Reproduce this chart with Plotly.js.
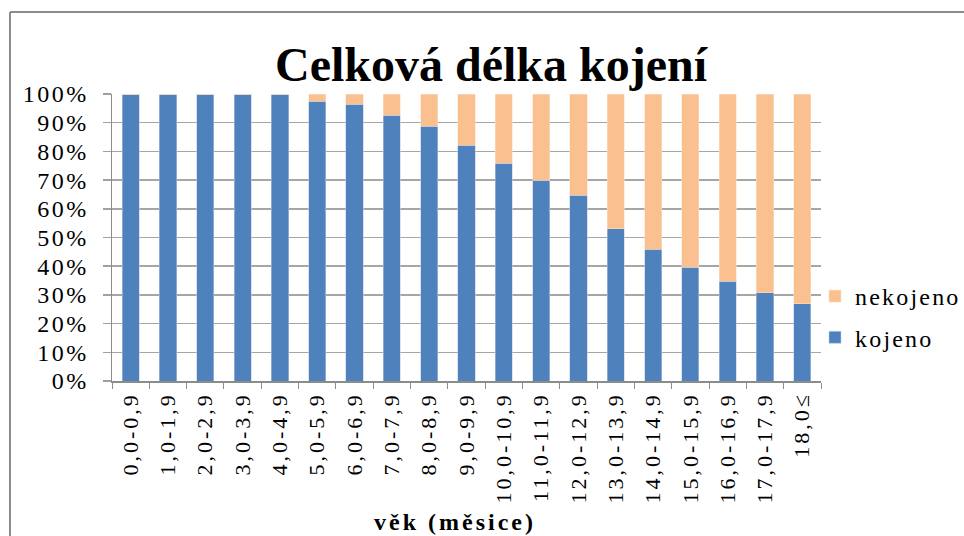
<!DOCTYPE html>
<html>
<head>
<meta charset="utf-8">
<script src="https://cdn.plot.ly/plotly-3.0.1.min.js"></script>
<style>
html,body{margin:0;padding:0;background:#fff;}
#chart{width:964px;height:536px;}
.xtick text{letter-spacing:3px;}
.ytick text{letter-spacing:2.5px;}
.legendtext{letter-spacing:2.2px;}
.legend, .legend *{clip-path:none !important;}
.annotation-text{letter-spacing:3px;}
</style>
</head>
<body>
<div id="chart"></div>
<script>
const categories = ["0,0-0,9","1,0-1,9","2,0-2,9","3,0-3,9","4,0-4,9","5,0-5,9","6,0-6,9","7,0-7,9","8,0-8,9","9,0-9,9","10,0-10,9","11,0-11,9","12,0-12,9","13,0-13,9","14,0-14,9","15,0-15,9","16,0-16,9","17,0-17,9","18,0≤"];
const kojeno = [100,100,100,100,100,97.4,96.5,92.6,88.8,82.2,75.8,70.0,64.8,53.1,45.9,39.6,34.7,30.7,27.0];
const nekojeno = [0,0,0,0,0,2.6,3.5,7.4,11.2,17.8,24.2,30.0,35.2,46.9,54.1,60.4,65.3,69.3,73.0];
const yTicks = [0,10,20,30,40,50,60,70,80,90,100];

const serif = "Liberation Serif";
const traces = [
  {type:'bar', name:'kojeno', x:categories, y:kojeno, legendrank: 2, legendgroup: 'a',
   marker:{color:'#4F81BD', line:{color:'rgba(190,205,230,0.9)', width:0.6}}, hoverinfo:'x+y+name'},
  {type:'bar', name:'nekojeno', x:categories, y:nekojeno, legendrank: 1, legendgroup: 'b',
   marker:{color:'#FAC090', line:{color:'rgba(253,225,200,0.9)', width:0.6}}, hoverinfo:'x+y+name'}
];

const L = 112, R = 821, T = 94, B = 381, W = 964, H = 536;
const px2x = p => (p - L) / (R - L);
const py2y = p => (B - p) / (B - T);

const layout = {
  width: W, height: H,
  margin: {l: L, r: W - R, t: T, b: H - B, pad: 0, autoexpand: false},
  paper_bgcolor: '#ffffff', plot_bgcolor: '#ffffff',
  barmode: 'stack', bargap: 0.54,
  font: {family: serif, color: '#000'},
  title: {text: '<b>Celková délka kojení</b>', font: {family: serif, size: 48, color: '#000'},
          x: 491 / W, xanchor: 'center', xref: 'container', y: 1 - 64 / H, yanchor: 'middle', yref: 'container'},
  xaxis: {type: 'category', tickangle: -90, tickfont: {family: serif, size: 22, color: '#000'},
          ticks: 'outside', ticklen: 6, tickcolor: '#8c8c8c', tickwidth: 1, tickson: 'boundaries',
          showline: true, linecolor: '#8c8c8c', linewidth: 1.5, showgrid: false, automargin: false,
          ticklabelstandoff: 1},
  yaxis: {range: [0, 100], tickvals: yTicks, ticktext: yTicks.map(v => v + '%'),
          tickfont: {family: serif, size: 24, color: '#000'},
          ticks: 'outside', ticklen: 8, tickcolor: '#a0a0a0', tickwidth: 1.5,
          showgrid: true, gridcolor: '#a6a6a6', gridwidth: 1.5,
          showline: true, linecolor: '#8c8c8c', linewidth: 1.5, zeroline: false, automargin: false,
          ticklabelstandoff: 9},
  showlegend: true,
  legend: {xref: 'container', yref: 'container', x: 815 / W, xanchor: 'left', y: 1 - 274 / H, yanchor: 'top',
           traceorder: 'grouped', font: {family: serif, size: 24, color: '#000'}, bgcolor: 'rgba(0,0,0,0)',
           itemwidth: 30, tracegroupgap: 7},
  annotations: [
    {text: '<b>věk (měsice)</b>', xref: 'paper', yref: 'paper', x: px2x(455), y: py2y(522),
     xanchor: 'center', yanchor: 'middle', showarrow: false, font: {family: serif, size: 24, color: '#000'}}
  ],
  shapes: [
    {type: 'line', xref: 'paper', yref: 'paper', x0: px2x(10), x1: px2x(10), y0: py2y(600), y1: py2y(12),
     line: {color: '#8c8c8c', width: 2}},
    {type: 'line', xref: 'paper', yref: 'paper', x0: px2x(10), x1: px2x(1000), y0: py2y(12), y1: py2y(12),
     line: {color: '#8c8c8c', width: 2}}
  ]
};

Plotly.newPlot('chart', traces, layout, {displayModeBar: false, staticPlot: true});
</script>
</body>
</html>
